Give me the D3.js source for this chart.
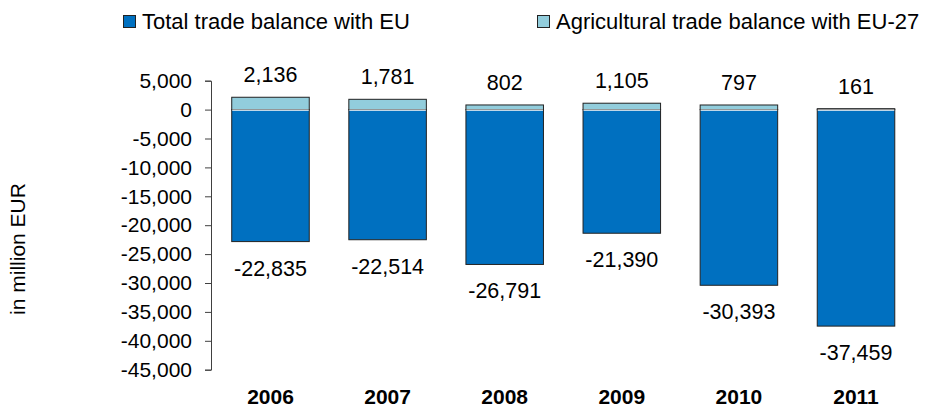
<!DOCTYPE html>
<html>
<head>
<meta charset="utf-8">
<script src="https://cdn.jsdelivr.net/npm/d3@7"></script>
<style>
  body { margin: 0; background: #fff; }
  svg text { font-family: "Liberation Sans", Arial, sans-serif; fill: #000; }
</style>
</head>
<body>
<div id="chart"></div>
<script>
// Chart data
const years = ["2006", "2007", "2008", "2009", "2010", "2011"];
const totalBalance = [-22835, -22514, -26791, -21390, -30393, -37459];
const agriBalance = [2136, 1781, 802, 1105, 797, 161];
const yTicks = [5000, 0, -5000, -10000, -15000, -20000, -25000, -30000, -35000, -40000, -45000];
const seriesNames = ["Total trade balance with EU", "Agricultural trade balance with EU-27"];
const seriesColors = ["#0070C0", "#92CDDC"];

const width = 928, height = 408;

// plain hyphen minus, like the original
const fmt = d3.formatLocale({ decimal: ".", thousands: ",", grouping: [3], currency: ["", ""], minus: "-" }).format(",");

const svg = d3.select("#chart").append("svg")
  .attr("width", width)
  .attr("height", height);

// Scales
const x = d3.scaleBand()
  .domain(years)
  .range([211, 915.5])
  .paddingInner(0.338)
  .paddingOuter(0.177);

const y = d3.scaleLinear()
  .domain([-45000, 5000])
  .range([369.7, 80.7]);

// Y axis
const yAxis = svg.append("g")
  .attr("transform", "translate(211,0)")
  .call(d3.axisLeft(y).tickValues(yTicks).tickFormat(fmt).tickSize(6).tickPadding(13));
yAxis.selectAll("path, line").attr("stroke", "#404040").attr("stroke-width", 1);
yAxis.selectAll("text").style("font-size", "21px").attr("fill", "#000");

// Y axis title
svg.append("text")
  .attr("transform", "translate(25,249) rotate(-90)")
  .attr("text-anchor", "middle")
  .style("font-size", "21px")
  .text("in million EUR");

const rows = years.map((yr, i) => ({ year: yr, total: totalBalance[i], agri: agriBalance[i] }));

// Total balance bars (negative)
svg.append("g").selectAll("rect")
  .data(rows)
  .join("rect")
  .attr("x", d => x(d.year))
  .attr("y", y(0))
  .attr("width", x.bandwidth())
  .attr("height", d => y(d.total) - y(0))
  .attr("fill", seriesColors[0])
  .attr("stroke", "#222")
  .attr("stroke-width", 1);

// Agricultural balance bars (positive)
svg.append("g").selectAll("rect")
  .data(rows)
  .join("rect")
  .attr("x", d => x(d.year))
  .attr("y", d => y(d.agri))
  .attr("width", x.bandwidth())
  .attr("height", d => y(0) - y(d.agri))
  .attr("fill", seriesColors[1])
  .attr("stroke", "#222")
  .attr("stroke-width", 1);

// white seam at zero
svg.append("g").selectAll("line")
  .data(rows)
  .join("line")
  .attr("x1", d => x(d.year) + 0.5)
  .attr("x2", d => x(d.year) + x.bandwidth() - 0.5)
  .attr("y1", y(0) + 0.5)
  .attr("y2", y(0) + 0.5)
  .attr("stroke", "#fff")
  .attr("stroke-width", 1.2);

// Value labels
svg.append("g").selectAll("text")
  .data(rows)
  .join("text")
  .attr("x", d => x(d.year) + x.bandwidth() / 2)
  .attr("y", d => y(d.agri) - 15)
  .attr("text-anchor", "middle")
  .style("font-size", "21.5px")
  .text(d => fmt(d.agri));

svg.append("g").selectAll("text")
  .data(rows)
  .join("text")
  .attr("x", d => x(d.year) + x.bandwidth() / 2)
  .attr("y", d => y(d.total) + 34)
  .attr("text-anchor", "middle")
  .style("font-size", "21.5px")
  .text(d => fmt(d.total));

// Year labels
svg.append("g").selectAll("text")
  .data(years)
  .join("text")
  .attr("x", d => x(d) + x.bandwidth() / 2)
  .attr("y", 404)
  .attr("text-anchor", "middle")
  .style("font-size", "21px")
  .style("font-weight", "bold")
  .text(d => d);

// Legend
const legendX = [123, 537];
const legend = svg.append("g").selectAll("g")
  .data(seriesNames)
  .join("g")
  .attr("transform", (d, i) => `translate(${legendX[i]},0)`);

legend.append("rect")
  .attr("x", 0.5)
  .attr("y", 15.5)
  .attr("width", 12)
  .attr("height", 12)
  .attr("fill", (d, i) => seriesColors[i])
  .attr("stroke", "#222")
  .attr("stroke-width", 1);

legend.append("text")
  .attr("x", 19)
  .attr("y", 29)
  .style("font-size", "22px")
  .text(d => d);
</script>
</body>
</html>
